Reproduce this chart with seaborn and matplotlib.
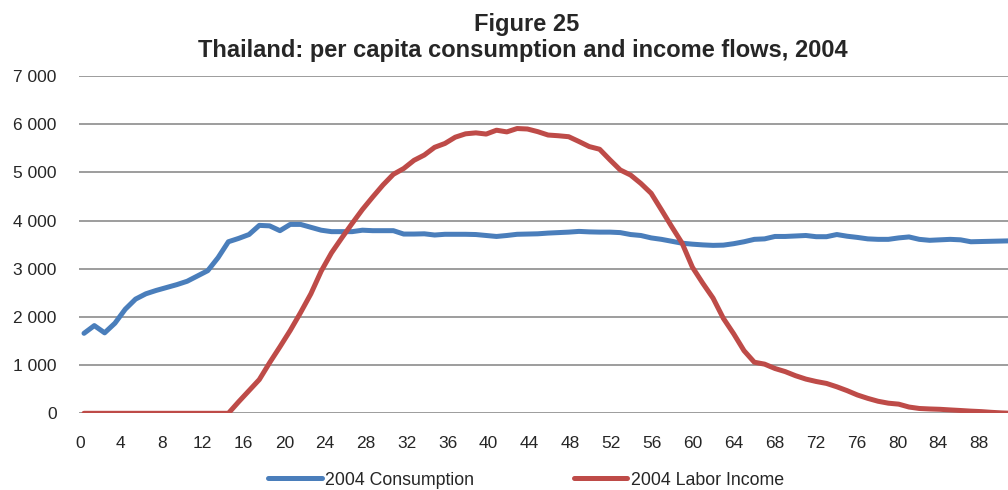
import matplotlib
matplotlib.use('Agg')
import matplotlib.pyplot as plt
import pandas as pd
import numpy as np
import seaborn as sns

sns.set_style('white')
plt.rcParams['font.family'] = ['Liberation Sans', 'DejaVu Sans']

# ---------------------------------------------------------------------------------------
# Data, ages 0..90

ages = list(range(0, 91))

consumption = [1660, 1820, 1670, 1870, 2160, 2370, 2480, 2550, 2610, 2670,
               2740, 2850, 2960, 3230, 3560, 3630, 3710, 3900, 3890, 3790,
               3920, 3920, 3860, 3800, 3770, 3770, 3770, 3800, 3790, 3790,
               3790, 3720, 3720, 3725, 3700, 3715, 3715, 3715, 3710, 3690,
               3670, 3690, 3715, 3720, 3725, 3740, 3750, 3760, 3775, 3765,
               3760, 3760, 3750, 3710, 3690, 3640, 3610, 3570, 3530, 3510,
               3495, 3485, 3490, 3520, 3560, 3610, 3620, 3670, 3670, 3680,
               3690, 3665, 3665, 3710, 3675, 3650, 3620, 3610, 3610, 3640,
               3660, 3610, 3590, 3600, 3610, 3600, 3560, 3565, 3570, 3575,
               3580]

labor_income = [0, 0, 0, 0, 0, 0, 0, 0, 0, 0,
                0, 0, 0, 0, 0, 240, 470, 700, 1050, 1380,
                1720, 2090, 2480, 2950, 3330, 3640, 3940, 4230, 4490, 4740,
                4960, 5080, 5250, 5360, 5520, 5600, 5730, 5800, 5820, 5795,
                5875, 5840, 5910, 5900, 5845, 5775, 5760, 5740, 5640, 5535,
                5480, 5260, 5050, 4945, 4770, 4565, 4220, 3870, 3530, 3030,
                2700, 2390, 1970, 1650, 1300, 1060, 1020, 930, 865, 780,
                710, 660, 620, 550, 470, 380, 310, 250, 210, 190,
                130, 100, 90, 83, 70, 58, 45, 35, 20, 8,
                0]

x_ticks = list(range(0, 89, 4))
y_ticks = [0, 1000, 2000, 3000, 4000, 5000, 6000, 7000]
y_tick_labels = ['0', '1 000', '2 000', '3 000', '4 000', '5 000', '6 000', '7 000']

series_names = ['2004 Consumption', '2004 Labor Income']
series_colors = ['#4A7EBB', '#BE4B48']

# ---------------------------------------------------------------------------------------
# Plot

fig = plt.figure(figsize=(10.08, 4.9), dpi=100)
ax = fig.add_axes([79 / 1008, 1 - 413.3 / 490, 1 - 79 / 1008, (413.3 - 76) / 490])

for name, values, color in zip(series_names, [consumption, labor_income], series_colors):
    sns.lineplot(x=ages, y=values, ax=ax, color=color, linewidth=3.6, label=name,
                 solid_capstyle='round', solid_joinstyle='round')

ax.set_xlim(-0.485, 89.6)
ax.set_ylim(0, 7000)

# excel draws category labels slightly off the points
ax.set_xticks(np.array(x_ticks) * 0.9908 - 0.39)
ax.set_xticklabels([str(t) for t in x_ticks])
ax.set_yticks(y_ticks)
ax.set_yticklabels(y_tick_labels)
ax.tick_params(axis='x', length=0, pad=16, labelsize=12.5)
ax.tick_params(axis='y', length=0, pad=16, labelsize=12.5)

ax.grid(axis='y', color='#8c8c8c', linewidth=1.2)
ax.set_axisbelow(True)
for side in ['left', 'right', 'top', 'bottom']:
    ax.spines[side].set_visible(False)
ax.set_xlabel('')
ax.set_ylabel('')

ax.get_legend().remove()
handles, labels = ax.get_legend_handles_labels()
fig.legend(handles, labels, loc='center', bbox_to_anchor=(0.522, 1 - 480 / 490),
           ncol=2, frameon=False, fontsize=12.8, handlelength=3.0, handletextpad=0.2,
           columnspacing=5.6)

fig.text(0.522, 1 - 24 / 490, 'Figure 25', ha='center', va='center',
         fontsize=17, fontweight='bold')
fig.text(0.519, 1 - 51 / 490, 'Thailand: per capita consumption and income flows, 2004',
         ha='center', va='center', fontsize=17, fontweight='bold')

fig.savefig('out.png', dpi=100)
